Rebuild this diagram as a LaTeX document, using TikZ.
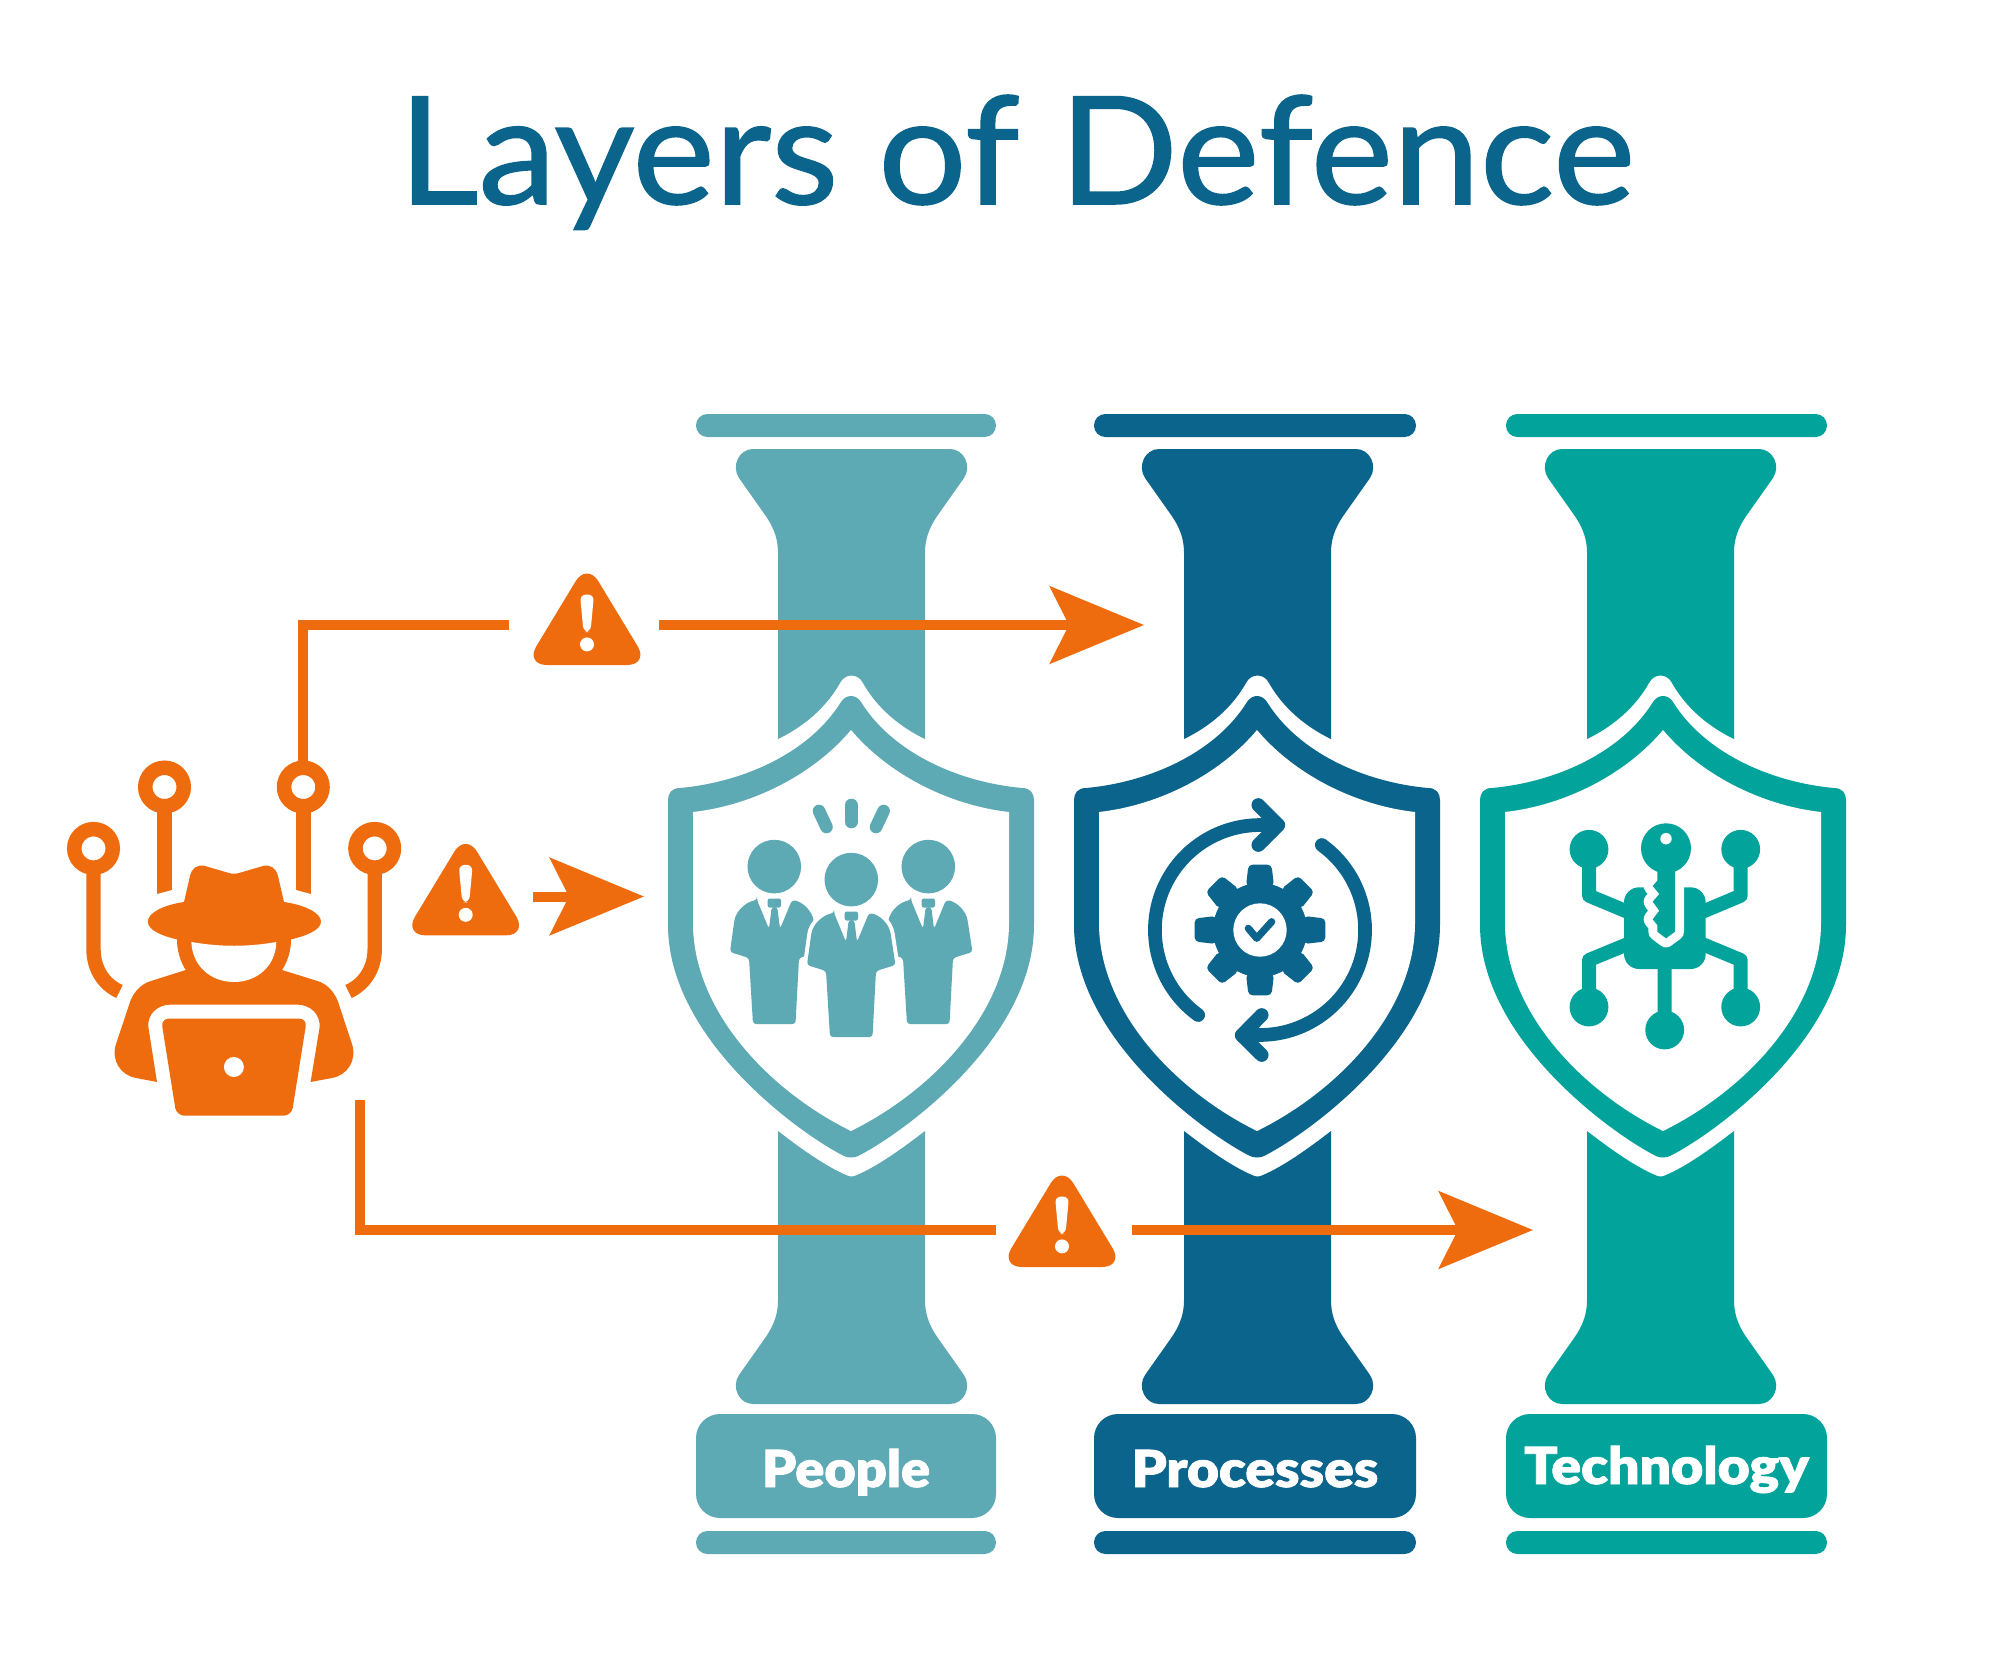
\documentclass[tikz,border=0pt]{standalone}
\usepackage{fontspec}
\usetikzlibrary{arrows.meta}
\newfontfamily\titlefont[FakeBold=1]{Lato}
\newfontfamily\labelfont[FakeBold=1.5]{Lato Black}
\definecolor{colOrange}{HTML}{EE6C0D}
\definecolor{colPeople}{HTML}{5DA9B4}
\definecolor{colProc}{HTML}{0B648B}
\definecolor{colTech}{HTML}{02A39B}

\begin{document}
\begin{tikzpicture}[x=0.5pt, y=-0.5pt]
    \tikzstyle{title_text} = [anchor = base west, inner sep = 0pt, text = colProc]
    \tikzstyle{bar_node}   = [shape = rectangle, rounded corners = 5.7pt, minimum height = 11.5pt, inner sep = 0pt, outer sep = 0pt]
    \tikzstyle{lab_node}   = [shape = rectangle, rounded corners = 12pt, minimum height = 52pt, inner sep = 0pt, outer sep = 0pt, text = white]
    \tikzstyle{ant_node}   = [shape = circle, draw = colOrange, fill = white, line width = 7.25pt, minimum size = 19.25pt, inner sep = 0pt]
    \tikzstyle{warn_gap}   = [shape = rectangle, minimum height = 5pt, inner sep = 0pt, outer sep = 0pt]
    \tikzstyle{ant_line}   = [draw = colOrange, line width = 7.2pt, shorten < = -3pt]
    \tikzstyle{conn_line}  = [draw = colOrange, line width = 5pt]
    \tikzstyle{conn_arrow} = [conn_line, -{Stealth[length = 47pt, width = 38.5pt, inset = 9.5pt]}]

    \useasboundingbox (0, 0) rectangle (1999, 1676);

    \node[title_text] at (398, 204) (title) {\titlefont\fontsize{75pt}{80pt}\selectfont\scalebox{1.039}[1]{Layers of Defence}};

    % pillars, shields, labels
    \foreach \i/\cx/\sx/\colr/\bl/\bw/\th/\lw/\txt in {
        1/0/0/colPeople/696/300/21/1.06/People,
        2/406/406/colProc/1094/322/21/1.08/Processes,
        3/809/812/colTech/1506/321/18/1.085/Technology} {
      \node[bar_node, fill = \colr, minimum width = \bw*0.5pt] at (\bl+\bw/2, 425.5) (bar_t\i) {};
      \node[bar_node, fill = \colr, minimum width = \bw*0.5pt] at (\bl+\bw/2, 1542.5) (bar_b\i) {};
      \node[lab_node, fill = \colr, minimum width = \bw*0.5pt, text height = \th pt, text depth = 0pt] at (\bl+\bw/2, 1466) (lab\i)
        {\labelfont\fontsize{25.5pt}{28pt}\selectfont\scalebox{\lw}[1]{\txt}};
      \begin{scope}[shift = {(\cx, 0)}]
        \fill[\colr] (778, 739) -- (778, 553) .. controls (778, 535) and (771, 523) .. (763, 512)
          -- (739, 478) .. controls (731, 466) and (739, 449) .. (753, 449) -- (950, 449)
          .. controls (964, 449) and (972, 466) .. (964, 478) -- (940, 512)
          .. controls (932, 523) and (925, 535) .. (925, 553) -- (925, 739)
          .. controls (900, 727) and (877, 708) .. (863, 683) .. controls (858, 673) and (845, 673) .. (840, 683)
          .. controls (826, 708) and (803, 727) .. (778, 739) -- cycle;
        \fill[\colr] (778, 1131) -- (778, 1300) .. controls (778, 1318) and (771, 1330) .. (763, 1341)
          -- (739, 1375) .. controls (731, 1387) and (739, 1404) .. (753, 1404) -- (950, 1404)
          .. controls (964, 1404) and (972, 1387) .. (964, 1375) -- (940, 1341)
          .. controls (932, 1330) and (925, 1318) .. (925, 1300) -- (925, 1131)
          .. controls (903, 1148) and (878, 1166) .. (857, 1175) .. controls (853, 1177) and (850, 1177) .. (846, 1175)
          .. controls (825, 1166) and (800, 1148) .. (778, 1131) -- cycle;
      \end{scope}
      \begin{scope}[shift = {(\sx, 0)}]
        \fill[\colr] (668, 800) .. controls (668, 793) and (672, 788) .. (680, 788)
          .. controls (745, 782) and (810, 752) .. (841, 702) .. controls (846, 694) and (856, 694) .. (861, 702)
          .. controls (892, 752) and (957, 782) .. (1022, 788) .. controls (1030, 788) and (1034, 793) .. (1034, 800)
          -- (1034, 925) .. controls (1034, 1040) and (900, 1135) .. (858, 1156)
          .. controls (854, 1158) and (848, 1158) .. (844, 1156) .. controls (802, 1135) and (668, 1040) .. (668, 925) -- cycle;
        \fill[white] (851, 730) .. controls (815, 773) and (755, 805) .. (693, 812) -- (693, 923)
          .. controls (693, 1010) and (768, 1090) .. (851, 1131) .. controls (934, 1090) and (1009, 1010) .. (1009, 923)
          -- (1009, 812) .. controls (947, 805) and (887, 773) .. (851, 730) -- cycle;
      \end{scope}
    }

    % people
    \tikzstyle{man_body} = [rounded corners = 1.5pt]
    \foreach \mx/\my in {-77/-13, 77/-13, 0/0} {
      \begin{scope}[shift = {(\mx, \my)}]
        \path[man_body, fill = colPeople, draw = white, line width = 4pt]
          (834, 913) -- (846, 942) -- (848.7, 920) -- (854.3, 920) -- (857, 942) -- (869, 913)
          .. controls (880, 915) and (889, 924) .. (891, 936) -- (895.5, 965) -- (876, 971) -- (872.5, 1037) -- (830, 1037) -- (826, 971) -- (807, 965) -- (811, 936)
          .. controls (813, 924) and (823, 915) .. (834, 913) -- cycle;
        \fill[colPeople, man_body] (834, 913) -- (846, 942) -- (848.7, 920) -- (854.3, 920) -- (857, 942) -- (869, 913)
          .. controls (880, 915) and (889, 924) .. (891, 936) -- (895.5, 965) -- (876, 971) -- (872.5, 1037) -- (830, 1037) -- (826, 971) -- (807, 965) -- (811, 936)
          .. controls (813, 924) and (823, 915) .. (834, 913) -- cycle;
        \fill[colPeople, rounded corners = 1pt] (844.7, 911.5) rectangle (858, 920.5);
        \fill[colPeople] (851.3, 879.6) circle (26.8);
      \end{scope}
    }
    \draw[colPeople, line width = 6.3pt, line cap = round] (851.3, 805) -- (851.3, 822);
    \draw[colPeople, line width = 6.3pt, line cap = round] (819, 811) -- (826.5, 827);
    \draw[colPeople, line width = 6.3pt, line cap = round] (883.6, 811) -- (876, 827);

    % gear and arrows
    \begin{scope}[shift = {(1260, 930)}]
      \foreach \a in {0, 45, ..., 315} {
        \fill[colProc, rounded corners = 2pt, rotate = \a] (-14, -44) -- (-11.5, -65.3) -- (11.5, -65.3) -- (14, -44) -- cycle;
      }
      \fill[colProc] (0, 0) circle (47);
      \fill[white] (0, 0) circle (26.7);
      \draw[colProc, line width = 3.6pt, line cap = round, line join = round] (-11.7, -1.7) -- (-3.3, 8.3) -- (11.7, -8.3);
      \draw[colProc, line width = 6.85pt, line cap = round] (-61.8, 85) arc[start angle = 126, end angle = 270, radius = 105] -- (18, -105);
      \draw[colProc, line width = 6.85pt, line cap = round] (61.8, -85) arc[start angle = -54, end angle = 90, radius = 105] -- (-18, 105);
      \draw[colProc, line width = 6.85pt, line cap = round, line join = round] (-1.7, -125) -- (18.3, -105) -- (-1.7, -85);
      \draw[colProc, line width = 6.85pt, line cap = round, line join = round] (1.7, 85) -- (-18.3, 105.3) -- (1.7, 125);
    \end{scope}

    % circuit and key
    \draw[colTech, line width = 7pt, line join = round]
      (1589, 849) -- (1589, 895.7) -- (1640, 917)
      (1740.7, 849) -- (1740.7, 895.7) -- (1690, 917)
      (1589, 1007) -- (1589, 960) -- (1640, 939)
      (1740.7, 1007) -- (1740.7, 960) -- (1690, 939)
      (1664.7, 1030) -- (1664.7, 960);
    \fill[colTech] (1589, 849.3) circle (19.4) (1740.7, 849.3) circle (19.4)
      (1589, 1007) circle (19.4) (1740.7, 1007) circle (19.4) (1664.7, 1030) circle (19.4);
    \fill[colTech, rounded corners = 7.5pt] (1624, 887.3) rectangle (1705.7, 969);
    \tikzstyle{key_shape} = [line join = round]
    \path[key_shape, draw = white, fill = white, line width = 9pt]
      (1657.3, 870) -- (1657.3, 880.7) -- (1652.7, 886) -- (1659.3, 894) -- (1652.7, 901.7) -- (1659.3, 910.7)
      -- (1652.7, 919.3) -- (1657.3, 925) -- (1657.3, 931.7) -- (1666, 938.3) -- (1675, 931.7) -- (1675, 870) -- cycle;
    \fill[colTech]
      (1657.3, 860) -- (1657.3, 880.7) -- (1652.7, 886) -- (1659.3, 894) -- (1652.7, 901.7) -- (1659.3, 910.7)
      -- (1652.7, 919.3) -- (1657.3, 925) -- (1657.3, 931.7) -- (1666, 938.3) -- (1675, 931.7) -- (1675, 860) -- cycle;
    \fill[colTech] (1666, 848.3) circle (25);
    \fill[white] (1666, 838.7) circle (5.7);

    % hacker
    \node[ant_node] at (93.5, 848.4)  (a1) {};
    \node[ant_node] at (164.5, 787)   (a2) {};
    \node[ant_node] at (303.3, 787)   (a3) {};
    \node[ant_node] at (374.7, 848.4) (a4) {};
    \coordinate (s1) at (119.5, 991.5);
    \coordinate (s2) at (164.5, 896);
    \coordinate (s3) at (303.3, 896);
    \coordinate (s4) at (348.5, 991.5);
    \draw[ant_line] (a1.south) -- (93.5, 949) .. controls (93.5, 968) and (103, 984) .. (s1);
    \draw[ant_line] (a4.south) -- (374.7, 949) .. controls (374.7, 968) and (365, 984) .. (s4);
    \draw[ant_line] (a2.south) -- (s2);
    \draw[ant_line] (a3.south) -- (s3);
    \fill[white] (155, 894.6) -- (174, 889.5) -- (174, 898) -- (155, 898) -- cycle;
    \fill[white] (294, 889.5) -- (313, 894.6) -- (313, 898) -- (294, 898) -- cycle;

    \fill[colOrange] (184, 902) -- (190, 876) .. controls (191.5, 868) and (198, 864) .. (205, 866) -- (229, 873)
      .. controls (232, 874) and (236, 874) .. (239, 873) -- (263, 866) .. controls (270, 864) and (276, 868) .. (278, 876)
      -- (284, 902) .. controls (305, 905) and (321, 913) .. (321, 921.6) .. controls (321, 930) and (306, 936) .. (291, 939.4)
      .. controls (291, 950) and (288, 961) .. (282, 970) -- (317.5, 981) .. controls (328, 984) and (336, 994) .. (339, 1004.6)
      -- (352, 1044) .. controls (357, 1060) and (348, 1075) .. (332, 1078) -- (310.6, 1082) -- (319.5, 1028)
      .. controls (321, 1014) and (310, 1004.6) .. (297, 1004.6) -- (170.6, 1004.6) .. controls (158, 1004.6) and (146.5, 1014) .. (148.5, 1028)
      -- (157, 1082) -- (136, 1078) .. controls (120, 1075) and (111, 1060) .. (116, 1044) -- (129, 1005)
      .. controls (132, 994) and (140, 984) .. (151, 981) -- (185.7, 970) .. controls (180, 961) and (177, 950) .. (177, 939.4)
      .. controls (162, 936) and (147.8, 930) .. (147.8, 921.6) .. controls (147.8, 913) and (163, 905) .. (184, 902) -- cycle;
    \fill[white] (191.4, 942) .. controls (220, 947) and (248, 947) .. (276.3, 942)
      .. controls (276, 965) and (258, 982) .. (233.9, 982) .. controls (210, 982) and (192, 965) .. (191.4, 942) -- cycle;
    \fill[colOrange, rounded corners = 4pt] (161, 1018.5) -- (307, 1018.5) -- (291.5, 1115.7) -- (176.5, 1115.7) -- cycle;
    \fill[white] (233.9, 1067) circle (10);

    % warnings
    \foreach \wx/\wy in {587/665, 465.7/935.4, 1062/1267} {
      \begin{scope}[shift = {(\wx, \wy)}]
        \fill[colOrange, rounded corners = 11pt] (-62, 0) -- (0, -102.5) -- (62, 0) -- cycle;
        \fill[white, rounded corners = 3pt] (-7, -70.5) -- (7, -70.5) -- (3.5, -33) -- (-3.5, -33) -- cycle;
        \fill[white] (0, -20.6) circle (7);
      \end{scope}
    }

    \node[warn_gap, minimum width = 75pt] at (584, 625)    (w1) {};
    \node[warn_gap, minimum width = 67pt] at (466, 896.5)  (w2) {};
    \node[warn_gap, minimum width = 68pt] at (1064, 1230)  (w3) {};
    \coordinate (tip1) at (1144, 625);
    \coordinate (tip2) at (644, 896.5);
    \coordinate (tip3) at (1533, 1230);
    \coordinate (hack_low) at (360, 1100);

    \draw[conn_line, shorten < = -2pt]  (a3.north) |- (w1.west);
    \draw[conn_arrow] (w1.east) -- (tip1);
    \draw[conn_arrow] (w2.east) -- (tip2);
    \draw[conn_line]  (hack_low) |- (w3.west);
    \draw[conn_arrow] (w3.east) -- (tip3);
\end{tikzpicture}
\end{document}
